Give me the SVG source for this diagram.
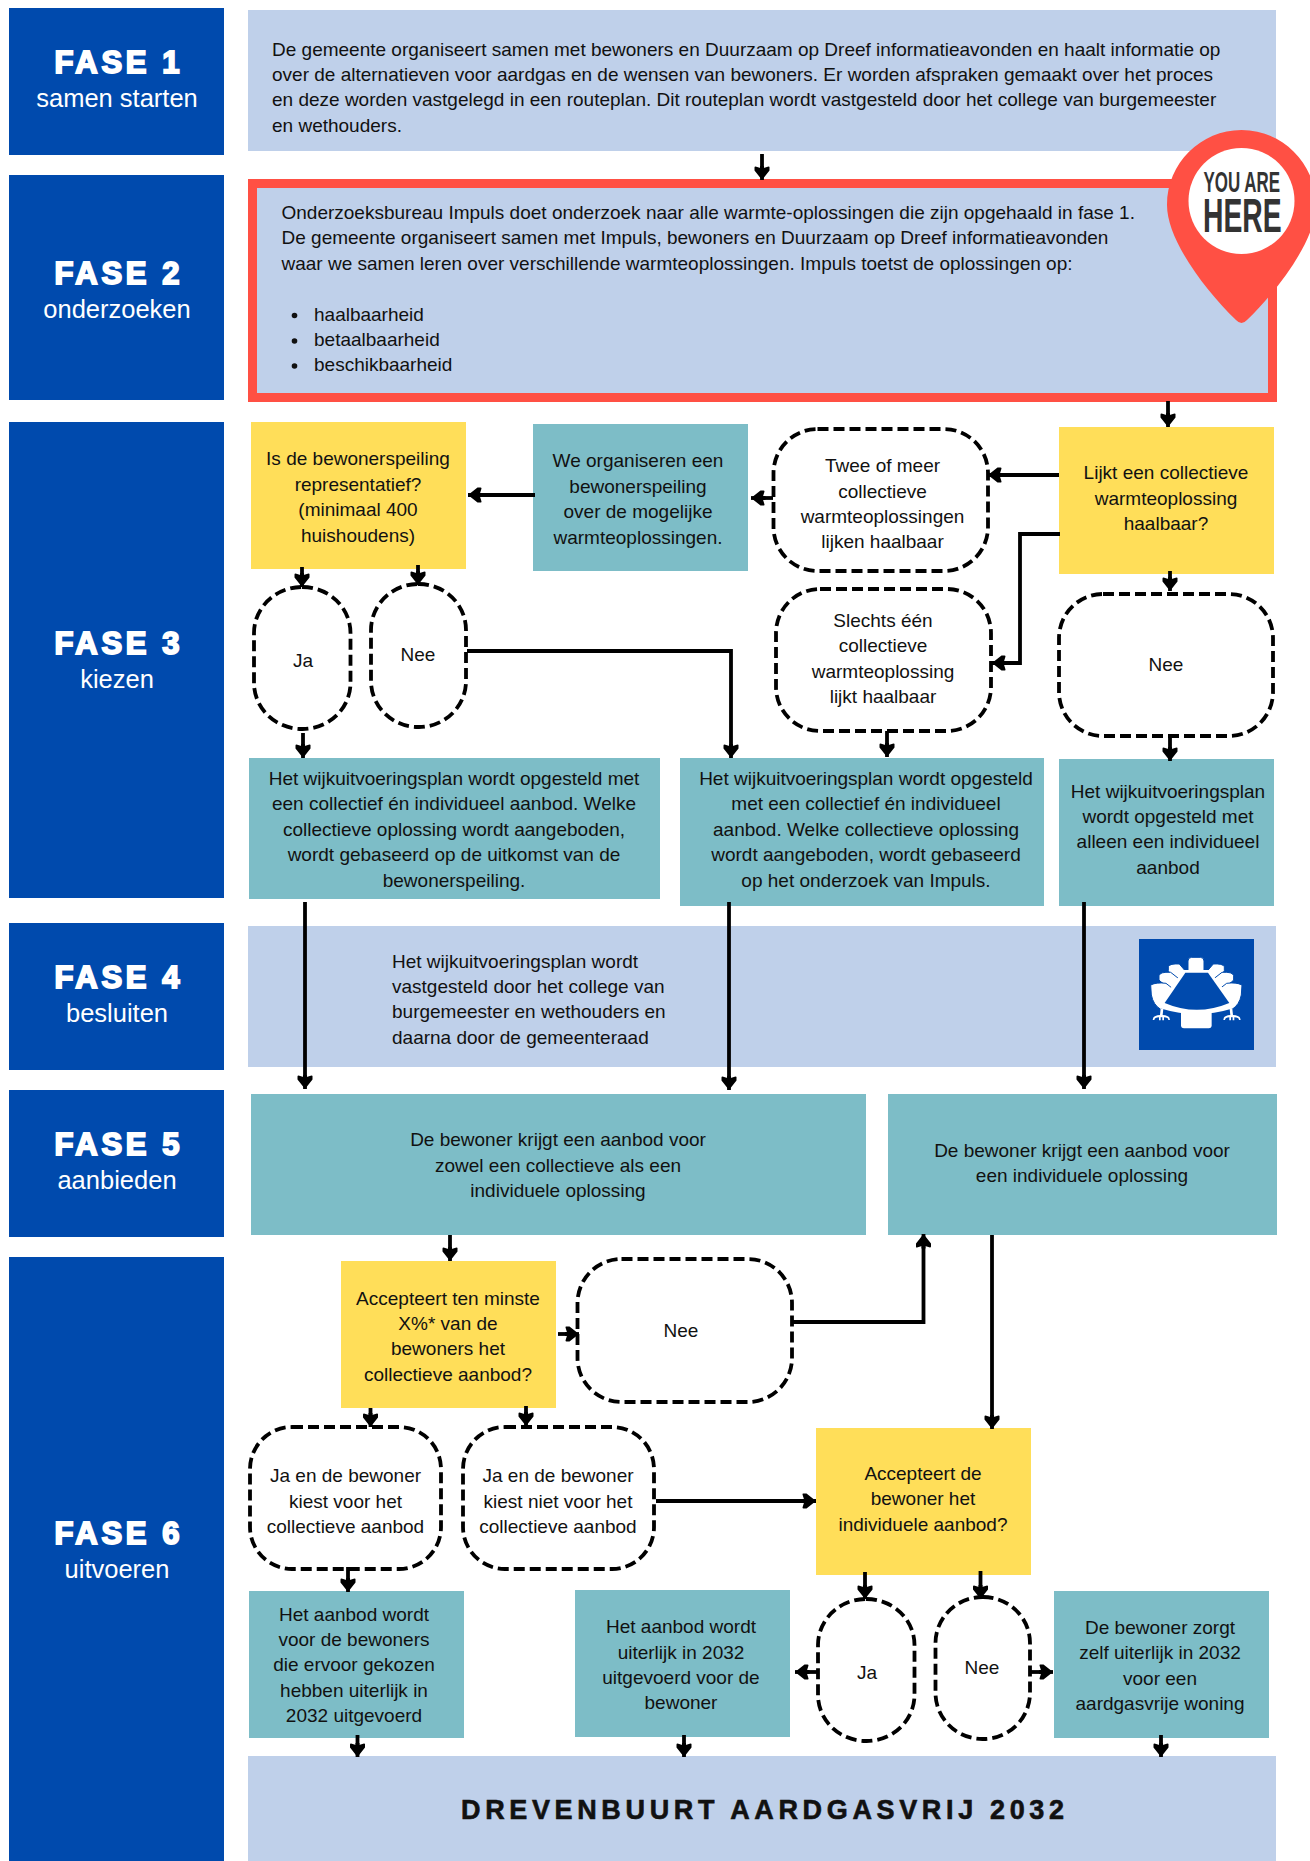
<svg xmlns="http://www.w3.org/2000/svg" width="1310" height="1861" viewBox="0 0 1310 1861">
<style>
.navy{fill:#004AAD}.light{fill:#BFD0EA}.teal{fill:#7DBDC7}.yellow{fill:#FFDE59}
.pill{fill:#fff;stroke:#000;stroke-width:3.8;stroke-dasharray:11 5}
text{font-family:"Liberation Sans",Arial,sans-serif;font-size:19px;fill:#111}
.m{text-anchor:middle}
.t{font-size:31px;font-weight:bold;fill:#fff;stroke:#fff;stroke-width:1.9;text-anchor:middle}
.s{font-size:25.5px;fill:#fff;text-anchor:middle}
.c{fill:none;stroke:#000;stroke-width:3.8;marker-end:url(#a)}
.ch{stroke:#004AAD;stroke-width:3}
</style>
<defs>
<marker id="a" markerUnits="userSpaceOnUse" markerWidth="18" markerHeight="20" refX="14.5" refY="9" orient="auto">
<path d="M1.5,1.5 Q1,1.5 1,2.5 L3,9 L1,15.5 Q1,16.5 2,16.5 L5,16.5 L14.5,9 L5,1.5Z" fill="#000"/>
<rect x="0" y="7" width="6" height="4" fill="#000"/>
</marker>
</defs>
<rect width="1310" height="1861" fill="#fff"/>

<g id="fase1"><rect class="navy" x="9" y="8" width="215" height="147"/><text class="t" x="117" y="73" textLength="125">FASE 1</text><text class="s" x="117" y="107">samen starten</text></g>
<g id="fase2"><rect class="navy" x="9" y="175" width="215" height="225"/><text class="t" x="117" y="284" textLength="125">FASE 2</text><text class="s" x="117" y="318">onderzoeken</text></g>
<g id="fase3"><rect class="navy" x="9" y="422" width="215" height="476"/><text class="t" x="117" y="654" textLength="125">FASE 3</text><text class="s" x="117" y="688">kiezen</text></g>
<g id="fase4"><rect class="navy" x="9" y="923" width="215" height="147"/><text class="t" x="117" y="988" textLength="125">FASE 4</text><text class="s" x="117" y="1022">besluiten</text></g>
<g id="fase5"><rect class="navy" x="9" y="1090" width="215" height="147"/><text class="t" x="117" y="1155" textLength="125">FASE 5</text><text class="s" x="117" y="1189">aanbieden</text></g>
<g id="fase6"><rect class="navy" x="9" y="1257" width="215" height="604"/><text class="t" x="117" y="1544" textLength="125">FASE 6</text><text class="s" x="117" y="1578">uitvoeren</text></g>

<g id="stap1"><rect class="light" x="248" y="10" width="1028" height="141"/>
<text><tspan x="272" y="56">De gemeente organiseert samen met bewoners en Duurzaam op Dreef informatieavonden en haalt informatie op</tspan><tspan x="272" y="81">over de alternatieven voor aardgas en de wensen van bewoners. Er worden afspraken gemaakt over het proces</tspan><tspan x="272" y="106">en deze worden vastgelegd in een routeplan. Dit routeplan wordt vastgesteld door het college van burgemeester</tspan><tspan x="272" y="132">en wethouders.</tspan></text></g>

<g id="stap2"><rect class="light" x="252.5" y="183.5" width="1020" height="214" stroke="#FF5044" stroke-width="9"/>
<text><tspan x="281.5" y="219">Onderzoeksbureau Impuls doet onderzoek naar alle warmte-oplossingen die zijn opgehaald in fase 1.</tspan><tspan x="281.5" y="244">De gemeente organiseert samen met Impuls, bewoners en Duurzaam op Dreef informatieavonden</tspan><tspan x="281.5" y="270">waar we samen leren over verschillende warmteoplossingen. Impuls toetst de oplossingen op:</tspan><tspan x="314" y="321">haalbaarheid</tspan><tspan x="314" y="346">betaalbaarheid</tspan><tspan x="314" y="371">beschikbaarheid</tspan></text>
<circle cx="294.5" cy="315.5" r="2.8" fill="#111"/><circle cx="294.5" cy="341" r="2.8" fill="#111"/><circle cx="294.5" cy="366" r="2.8" fill="#111"/></g>

<g id="vraag-representatief"><rect class="yellow" x="251" y="422" width="215" height="147"/><text class="m"><tspan x="358" y="465">Is de bewonerspeiling</tspan><tspan x="358" y="491">representatief?</tspan><tspan x="358" y="516">(minimaal 400</tspan><tspan x="358" y="542">huishoudens)</tspan></text></g>
<g id="bewonerspeiling"><rect class="teal" x="533" y="424" width="215" height="147"/><text class="m"><tspan x="638" y="467">We organiseren een</tspan><tspan x="638" y="493">bewonerspeiling</tspan><tspan x="638" y="518">over de mogelijke</tspan><tspan x="638" y="544">warmteoplossingen.</tspan></text></g>
<g id="twee-of-meer"><rect class="pill" x="773.5" y="429" width="214.5" height="142" rx="44" ry="44"/><text class="m"><tspan x="882.5" y="472">Twee of meer</tspan><tspan x="882.5" y="498">collectieve</tspan><tspan x="882.5" y="523">warmteoplossingen</tspan><tspan x="882.5" y="548">lijken haalbaar</tspan></text></g>
<g id="vraag-haalbaar"><rect class="yellow" x="1059" y="427" width="215" height="147"/><text class="m"><tspan x="1166" y="479">Lijkt een collectieve</tspan><tspan x="1166" y="505">warmteoplossing</tspan><tspan x="1166" y="530">haalbaar?</tspan></text></g>
<g id="slechts-een"><rect class="pill" x="776" y="589" width="215" height="142" rx="44" ry="44"/><text class="m"><tspan x="883" y="627">Slechts één</tspan><tspan x="883" y="652">collectieve</tspan><tspan x="883" y="678">warmteoplossing</tspan><tspan x="883" y="703">lijkt haalbaar</tspan></text></g>
<g id="nee-haalbaar"><rect class="pill" x="1059" y="594" width="214" height="142" rx="44" ry="44"/><text class="m" x="1166" y="671">Nee</text></g>
<g id="ja-speiling"><rect class="pill" x="254" y="587" width="96.5" height="142" rx="48" ry="46"/><text class="m" x="303" y="667">Ja</text></g>
<g id="nee-speiling"><rect class="pill" x="371" y="584" width="95" height="143" rx="47" ry="46"/><text class="m" x="418" y="661">Nee</text></g>
<g id="plan-spelling"><rect class="teal" x="249" y="758" width="411" height="141"/><text class="m"><tspan x="454" y="785">Het wijkuitvoeringsplan wordt opgesteld met</tspan><tspan x="454" y="810">een collectief én individueel aanbod. Welke</tspan><tspan x="454" y="836">collectieve oplossing wordt aangeboden,</tspan><tspan x="454" y="861">wordt gebaseerd op de uitkomst van de</tspan><tspan x="454" y="887">bewonerspeiling.</tspan></text></g>
<g id="plan-impuls"><rect class="teal" x="680" y="758" width="364" height="148"/><text class="m"><tspan x="866" y="785">Het wijkuitvoeringsplan wordt opgesteld</tspan><tspan x="866" y="810">met een collectief én individueel</tspan><tspan x="866" y="836">aanbod. Welke collectieve oplossing</tspan><tspan x="866" y="861">wordt aangeboden, wordt gebaseerd</tspan><tspan x="866" y="887">op het onderzoek van Impuls.</tspan></text></g>
<g id="plan-individueel"><rect class="teal" x="1059" y="759" width="215" height="147"/><text class="m"><tspan x="1168" y="798">Het wijkuitvoeringsplan</tspan><tspan x="1168" y="823">wordt opgesteld met</tspan><tspan x="1168" y="848">alleen een individueel</tspan><tspan x="1168" y="874">aanbod</tspan></text></g>

<g id="stap4"><rect class="light" x="248" y="926" width="1028" height="141"/><text><tspan x="392" y="968">Het wijkuitvoeringsplan wordt</tspan><tspan x="392" y="993">vastgesteld door het college van</tspan><tspan x="392" y="1018">burgemeester en wethouders en</tspan><tspan x="392" y="1044">daarna door de gemeenteraad</tspan></text>
<g id="icoon"><rect class="navy" x="1139" y="939" width="115" height="111"/>
<g transform="translate(1120 920) scale(.3333)" fill="#fff">
<rect class="ch" x="204" y="112" width="48" height="50" rx="11"/>
<path class="ch" d="M145 140 Q150 130 178 132 L202 160 L180 180 Q150 165 145 152Z"/><path class="ch" d="M313 140 Q308 130 280 132 L256 160 L278 180 Q308 165 313 152Z"/>
<path class="ch" d="M117 167 Q120 155 152 157 L184 182 L162 210 Q125 190 117 180Z"/><path class="ch" d="M341 167 Q338 155 306 157 L274 182 L296 210 Q333 190 341 180Z"/>
<path class="ch" d="M92 195 Q110 186 138 190 L170 215 L135 262 L122 268 Q100 255 94 225Z"/><path class="ch" d="M366 195 Q348 186 320 190 L288 215 L323 262 L336 268 Q358 255 364 225Z"/>
<rect x="183" y="268" width="92" height="57" rx="9"/>
<path d="M190 150 L268 150 L342 250 Q345 262 335 266 Q230 298 125 266 Q115 262 120 250Z"/>
<path d="M98 300 Q98 286 120 285 L122 266 L130 266 L128 285 Q150 286 150 300 L145 300 Q145 292 132 292 L132 301 L127 301 L127 292 L122 292 L122 301 L117 301 L117 292 Q104 292 103 300Z"/>
<path d="M310 300 Q310 286 331 285 L329 266 L337 266 L339 285 Q362 286 362 300 L357 300 Q357 292 343 292 L343 301 L338 301 L338 292 L333 292 L333 301 L328 301 L328 292 Q316 292 315 300Z"/>
<path d="M196 158 L264 158 L328 249 Q230 290 134 249Z" style="fill:#004AAD"/>
</g></g></g>

<g id="aanbod-beide"><rect class="teal" x="251" y="1094" width="615" height="141"/><text class="m"><tspan x="558" y="1146">De bewoner krijgt een aanbod voor</tspan><tspan x="558" y="1172">zowel een collectieve als een</tspan><tspan x="558" y="1197">individuele oplossing</tspan></text></g>
<g id="aanbod-individueel"><rect class="teal" x="888" y="1094" width="389" height="141"/><text class="m"><tspan x="1082" y="1157">De bewoner krijgt een aanbod voor</tspan><tspan x="1082" y="1182">een individuele oplossing</tspan></text></g>

<g id="vraag-collectief"><rect class="yellow" x="341" y="1261" width="215" height="147"/><text class="m"><tspan x="448" y="1305">Accepteert ten minste</tspan><tspan x="448" y="1330">X%* van de</tspan><tspan x="448" y="1355">bewoners het</tspan><tspan x="448" y="1381">collectieve aanbod?</tspan></text></g>
<g id="nee-collectief"><rect class="pill" x="577.5" y="1259" width="214.5" height="143" rx="44" ry="44"/><text class="m" x="681" y="1337">Nee</text></g>
<g id="ja-kiest"><rect class="pill" x="250" y="1427" width="191" height="142" rx="42" ry="42"/><text class="m"><tspan x="345.5" y="1482">Ja en de bewoner</tspan><tspan x="345.5" y="1508">kiest voor het</tspan><tspan x="345.5" y="1533">collectieve aanbod</tspan></text></g>
<g id="ja-kiest-niet"><rect class="pill" x="463" y="1427" width="191" height="142" rx="42" ry="42"/><text class="m"><tspan x="558" y="1482">Ja en de bewoner</tspan><tspan x="558" y="1508">kiest niet voor het</tspan><tspan x="558" y="1533">collectieve aanbod</tspan></text></g>
<g id="vraag-individueel"><rect class="yellow" x="816" y="1428" width="215" height="147"/><text class="m"><tspan x="923" y="1480">Accepteert de</tspan><tspan x="923" y="1505">bewoner het</tspan><tspan x="923" y="1531">individuele aanbod?</tspan></text></g>
<g id="uitvoering-collectief"><rect class="teal" x="249" y="1591" width="215" height="147"/><text class="m"><tspan x="354" y="1621">Het aanbod wordt</tspan><tspan x="354" y="1646">voor de bewoners</tspan><tspan x="354" y="1671">die ervoor gekozen</tspan><tspan x="354" y="1697">hebben uiterlijk in</tspan><tspan x="354" y="1722">2032 uitgevoerd</tspan></text></g>
<g id="uitvoering-individueel"><rect class="teal" x="575" y="1590" width="215" height="147"/><text class="m"><tspan x="681" y="1633">Het aanbod wordt</tspan><tspan x="681" y="1659">uiterlijk in 2032</tspan><tspan x="681" y="1684">uitgevoerd voor de</tspan><tspan x="681" y="1709">bewoner</tspan></text></g>
<g id="ja-individueel"><rect class="pill" x="818" y="1599" width="96.5" height="142" rx="48" ry="46"/><text class="m" x="867" y="1679">Ja</text></g>
<g id="nee-individueel"><rect class="pill" x="935.5" y="1597" width="94.5" height="142" rx="47" ry="46"/><text class="m" x="982" y="1674">Nee</text></g>
<g id="zelf"><rect class="teal" x="1054" y="1591" width="215" height="147"/><text class="m"><tspan x="1160" y="1634">De bewoner zorgt</tspan><tspan x="1160" y="1659">zelf uiterlijk in 2032</tspan><tspan x="1160" y="1685">voor een</tspan><tspan x="1160" y="1710">aardgasvrije woning</tspan></text></g>
<g id="eind"><rect class="light" x="248" y="1756" width="1028" height="105"/><text x="461" y="1819" textLength="603" style="font-size:27px;font-weight:bold;stroke:#111;stroke-width:.6">DREVENBUURT AARDGASVRIJ 2032</text></g>

<g id="connectors">
<path class="c" d="M762 154V180"/>
<path class="c" d="M1168 401V427"/>
<path class="c" d="M535 495H468"/>
<path class="c" d="M773 498H751"/>
<path class="c" d="M1059 475H988"/>
<path class="c" d="M1060 534H1020V663H992"/>
<path class="c" d="M1170 571V591"/>
<path class="c" d="M1170 735V761"/>
<path class="c" d="M887 731V757"/>
<path class="c" d="M302 567V587"/>
<path class="c" d="M418 565V585"/>
<path class="c" d="M303 733V758"/>
<path class="c" d="M467 651H731V758"/>
<path class="c" d="M305 902V1089"/>
<path class="c" d="M729 902V1090"/>
<path class="c" d="M1084 902V1089"/>
<path class="c" d="M450 1235V1261"/>
<path class="c" d="M558 1334H579"/>
<path class="c" d="M792 1322H923.5V1234"/>
<path class="c" d="M992 1235V1429"/>
<path class="c" d="M370.5 1408V1427"/>
<path class="c" d="M526 1406V1426"/>
<path class="c" d="M656 1501H816"/>
<path class="c" d="M348 1567V1592"/>
<path class="c" d="M865 1572V1599"/>
<path class="c" d="M980.5 1571V1599"/>
<path class="c" d="M818 1672H795"/>
<path class="c" d="M1030 1672H1053"/>
<path class="c" d="M1161 1735V1757"/>
<path class="c" d="M357.5 1735V1757"/>
<path class="c" d="M684 1735V1757"/>
</g>

<g id="speld">
<path fill="#FF5044" d="M1241.5 130C1282 130 1316 163 1316 205C1316 240 1278 290 1247 320Q1241.5 326 1236 320C1205 290 1167 240 1167 205C1167 163 1201 130 1241.5 130Z"/>
<circle cx="1241.5" cy="201" r="53" fill="#fff"/>
<text transform="translate(1203.5 192) scale(.565 1)" style="font-size:30px;fill:#333;font-weight:bold">YOU ARE</text>
<text transform="translate(1203 232) scale(.59 1)" style="font-size:48px;fill:#333;font-weight:bold">HERE</text>
</g>
</svg>
